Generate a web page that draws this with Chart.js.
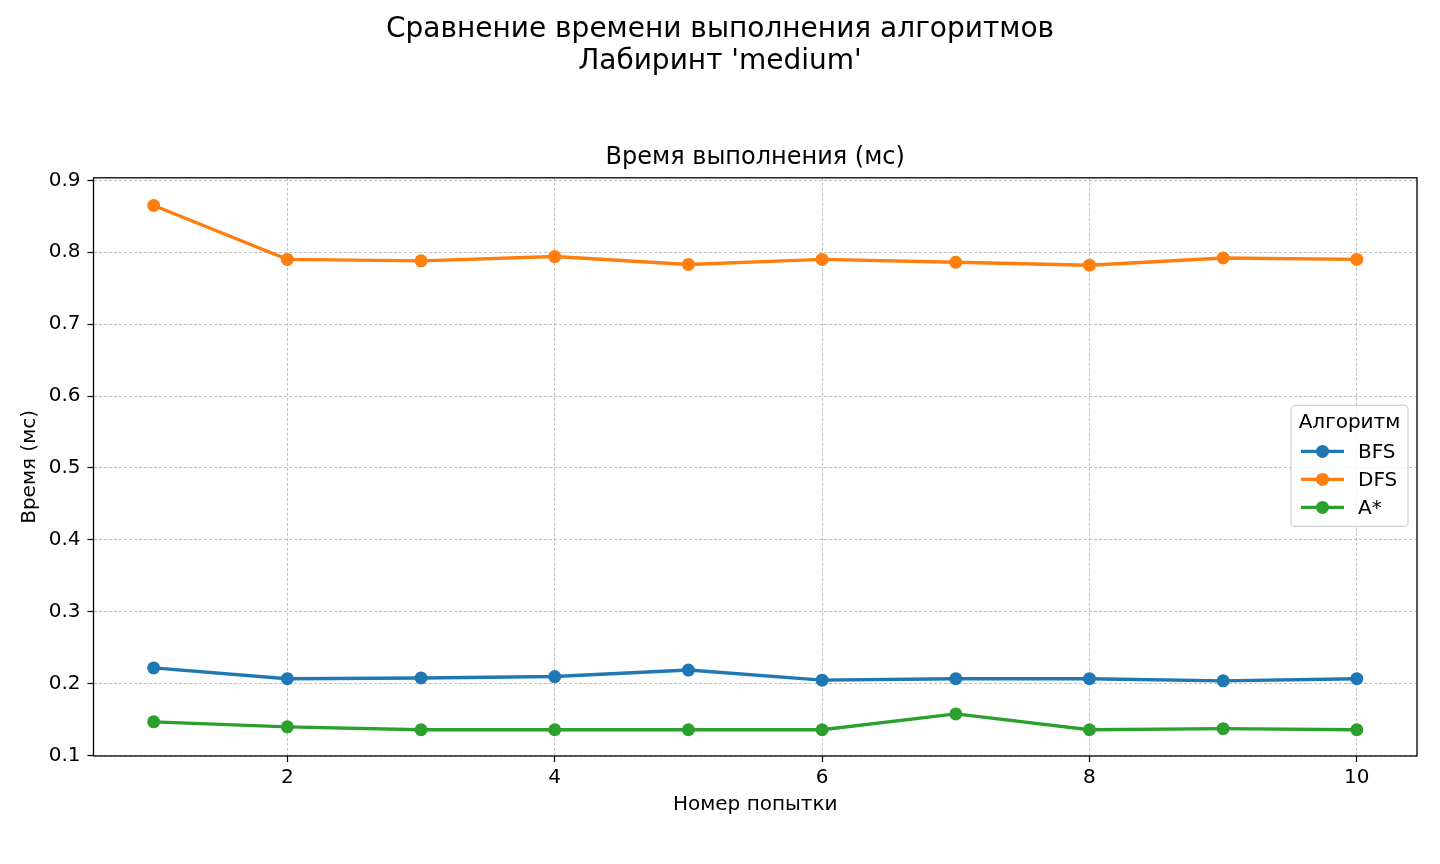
<!DOCTYPE html>
<html lang="ru">
<head>
<meta charset="utf-8">
<title>Сравнение времени выполнения алгоритмов</title>
<script src="https://cdn.jsdelivr.net/npm/chart.js@4.4.1/dist/chart.umd.min.js"></script>
<style>
  html, body { margin: 0; padding: 0; background: #fff; }
  #wrap { width: 1440px; height: 864px; position: relative; }
</style>
</head>
<body>
<div id="wrap"><canvas id="grafico"></canvas></div>
<script>
// Номера попыток (ось X)
const popytki = [1, 2, 3, 4, 5, 6, 7, 8, 9, 10];

// Время выполнения, мс
const vremyaBFS = [0.222, 0.207, 0.208, 0.210, 0.219, 0.205, 0.207, 0.207, 0.204, 0.207];
const vremyaDFS = [0.865, 0.790, 0.788, 0.794, 0.783, 0.790, 0.786, 0.782, 0.792, 0.790];
const vremyaAstar = [0.147, 0.140, 0.136, 0.136, 0.136, 0.136, 0.158, 0.136, 0.1375, 0.136];

const algoritmy = ["BFS", "DFS", "A*"];
const serii = [vremyaBFS, vremyaDFS, vremyaAstar];

// Цвета matplotlib tab10
const cveta = ["#1f77b4", "#ff7f0e", "#2ca02c"];

const shrift = "'DejaVu Sans', Verdana, sans-serif";

// Рамка вокруг области графика (как оси matplotlib)
const ramka = {
  id: "ramka",
  afterDatasetsDraw(chart) {
    const { ctx, chartArea: a } = chart;
    ctx.save();
    ctx.strokeStyle = "#000";
    ctx.lineWidth = 1.3;
    ctx.strokeRect(a.left, a.top, a.right - a.left, a.bottom - a.top);
    ctx.restore();
  }
};

// Легенда внутри области графика, справа по центру
const legenda = {
  id: "legenda",
  afterDraw(chart) {
    const { ctx, chartArea: a } = chart;
    const w = 117, h = 121;
    const x = a.right - 9 - w;
    const y = (a.top + a.bottom) / 2 - h / 2 - 1;
    ctx.save();
    ctx.fillStyle = "rgba(255,255,255,0.8)";
    ctx.strokeStyle = "#d0d0d0";
    ctx.lineWidth = 1.2;
    ctx.beginPath();
    ctx.roundRect(x, y, w, h, 4);
    ctx.fill();
    ctx.stroke();

    ctx.fillStyle = "#000";
    ctx.font = "20px " + shrift;
    ctx.textBaseline = "middle";
    ctx.textAlign = "center";
    ctx.fillText("Алгоритм", x + w / 2, y + 17);

    ctx.textAlign = "left";
    chart.data.datasets.forEach((ds, i) => {
      const yy = y + 46 + i * 28;
      ctx.strokeStyle = ds.borderColor;
      ctx.lineWidth = 3.3;
      ctx.beginPath();
      ctx.moveTo(x + 10, yy);
      ctx.lineTo(x + 53, yy);
      ctx.stroke();
      ctx.fillStyle = ds.borderColor;
      ctx.beginPath();
      ctx.arc(x + 31.5, yy, 6.5, 0, Math.PI * 2);
      ctx.fill();
      ctx.fillStyle = "#000";
      ctx.fillText(ds.label, x + 67, yy + 1);
    });
    ctx.restore();
  }
};

const datasets = algoritmy.map((nazv, k) => ({
  label: nazv,
  data: popytki.map((p, i) => ({ x: p, y: serii[k][i] })),
  borderColor: cveta[k],
  backgroundColor: cveta[k],
  borderWidth: 3.4,
  tension: 0,
  pointRadius: 6.5,
  pointHoverRadius: 6.5,
  pointBorderWidth: 0,
  pointBackgroundColor: cveta[k]
}));

Chart.defaults.font.family = shrift;
Chart.defaults.color = "#000";

const setka = {
  color: "#b0b0b0",
  lineWidth: 0.8,
  tickColor: "#000",
  tickWidth: 1.2,
  tickLength: 6,
  tickBorderDash: []
};

new Chart(document.getElementById("grafico"), {
  type: "line",
  data: { datasets },
  plugins: [ramka, legenda],
  options: {
    responsive: true,
    maintainAspectRatio: false,
    animation: false,
    devicePixelRatio: 1,
    // симметричные поля, чтобы общий заголовок был по центру холста
    layout: { padding: { left: 23, right: 23, top: 0, bottom: 0 } },
    plugins: {
      legend: { display: false },
      tooltip: { enabled: false },
      title: {
        display: true,
        text: ["Сравнение времени выполнения алгоритмов", "Лабиринт 'medium'"],
        font: { size: 28, weight: "normal", lineHeight: 32 / 28 },
        color: "#000",
        padding: { top: 14, bottom: 0 }
      },
      subtitle: {
        display: true,
        fullSize: false,
        text: "Время выполнения (мс)",
        font: { size: 24, weight: "normal", lineHeight: 1.2 },
        color: "#000",
        padding: { top: 65, bottom: 6 }
      }
    },
    scales: {
      x: {
        type: "linear",
        min: 0.55,
        max: 10.45,
        afterFit(s) { s.height = 108; },
        ticks: {
          stepSize: 2,
          includeBounds: false,
          padding: 4,
          font: { size: 20 },
          color: "#000"
        },
        grid: setka,
        border: { display: false, dash: [3, 2] },
        title: {
          display: true,
          text: "Номер попытки",
          font: { size: 20 },
          color: "#000",
          padding: { top: 0, bottom: 47 }
        }
      },
      y: {
        min: 0.0995,
        max: 0.9035,
        afterFit(s) { s.width = 70.5; },
        ticks: {
          stepSize: 0.1,
          includeBounds: false,
          padding: 7,
          font: { size: 20 },
          color: "#000",
          callback: v => v.toFixed(1)
        },
        grid: setka,
        border: { display: false, dash: [3, 2] },
        title: {
          display: true,
          text: "Время (мс)",
          font: { size: 20 },
          color: "#000",
          padding: { top: -5, bottom: 0 }
        }
      }
    }
  }
});
</script>
</body>
</html>
